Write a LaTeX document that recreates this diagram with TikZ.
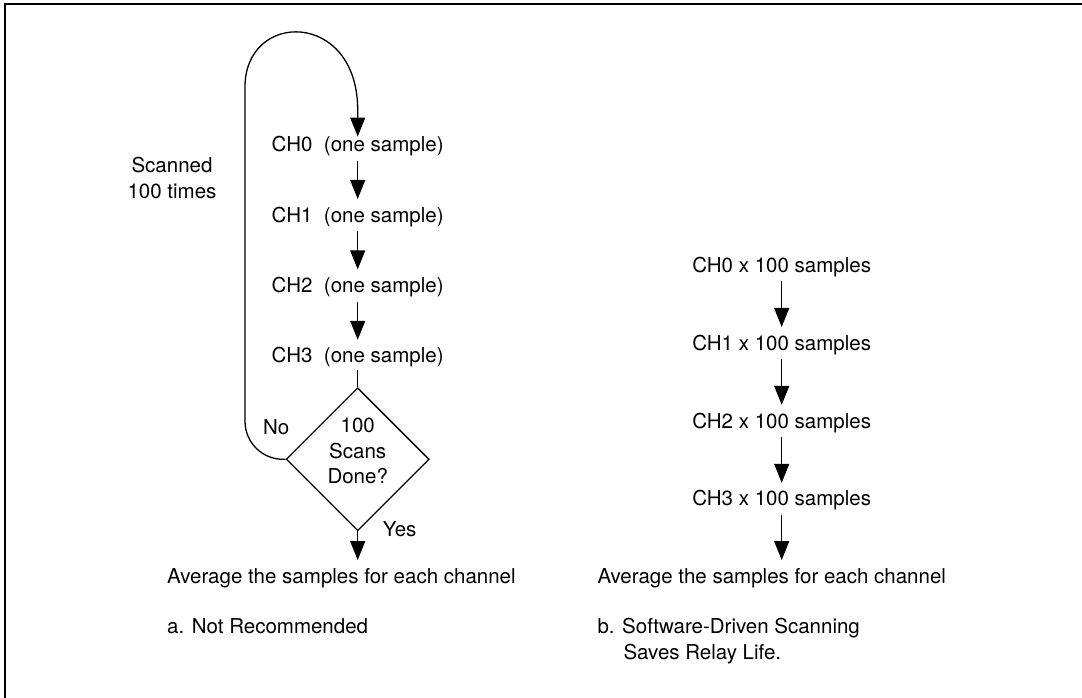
\documentclass[tikz,border=0pt]{standalone}
\usepackage{fontspec}
\setmainfont{TeX Gyre Heros}
\usetikzlibrary{arrows.meta,positioning,calc,shapes.geometric}
\newcommand{\diafont}{\fontsize{20.5pt}{25.5pt}\selectfont}

\begin{document}
\begin{tikzpicture}[
  x=1pt, y=-1pt,
  node distance=50.5pt,
  txt/.style={font=\diafont, inner sep=0pt, text height=15pt, text depth=4.5pt},
  lbl/.style={font=\diafont, inner sep=0pt, align=center},
  test/.style={draw, diamond, line width=1.3pt, minimum width=143pt,
               minimum height=143pt, inner sep=0pt},
  arr/.style={-{Triangle[length=19pt,width=15pt]}, line width=1.3pt,
              shorten <=4.5pt, shorten >=8pt},
  link/.style={line width=1.3pt},
  frame/.style={line width=2pt},
]
\useasboundingbox (0,0) rectangle (1082,698);

%% Frame (top and left edges)
\draw[frame] (5,698) -- (5,4.5) -- (1082,4.5);

%% a. one sample per channel, scanned 100 times
\node[txt] (ch0L) at (357.7,146.5) {CH0\ \ (one sample)};
\node[txt, below=of ch0L] (ch1L) {CH1\ \ (one sample)};
\node[txt, below=of ch1L] (ch2L) {CH2\ \ (one sample)};
\node[txt, below=of ch2L] (ch3L) {CH3\ \ (one sample)};
\node[test, below=19.5pt of ch3L,
      label={[lbl, yshift=8.3pt]center:{100\\Scans\\Done?}}] (dia) {};
\node[txt, anchor=west] (avgL) at (167,578) {Average the samples for each channel};
\node[txt, below=30.5pt of avgL.south west, anchor=north west] (capA) {a. Not Recommended};

\node[lbl] (scan) at (172,178) {Scanned\\100 times};
\node[txt] (no) at ($(dia.west)+(-9.3,-30.3)$) {No};
\node[txt, right=25pt of dia.south] (yes) {Yes};

\draw[arr] (ch0L.south) -- (ch1L.north);
\draw[arr] (ch1L.south) -- (ch2L.north);
\draw[arr] (ch2L.south) -- (ch3L.north);
\draw[link, shorten <=2.75pt] (ch3L.south) -- (dia.north);
\draw[arr, shorten <=0pt] (dia.south) -- (dia.south |- avgL.north);

%% loop back (No)
\draw[link, -{Triangle[length=19pt,width=15pt]}]
  (dia.west) [rounded corners=38pt] -| (245,125) [sharp corners]
  .. controls (245,10) and (357.7,10) .. (357.7,110) -- (ch0L.north);

%% b. software-driven scanning
\node[txt] (ch0R) at (781.7,267) {CH0 x 100 samples};
\node[txt, below=58pt of ch0R] (ch1R) {CH1 x 100 samples};
\node[txt, below=58pt of ch1R] (ch2R) {CH2 x 100 samples};
\node[txt, below=58pt of ch2R] (ch3R) {CH3 x 100 samples};
\node[txt, anchor=west] (avgR) at (597.3,578) {Average the samples for each channel};
\node[lbl, align=left, below=30.5pt of avgR.south west, anchor=north west] (capB)
  {b. Software-Driven Scanning\\\hspace*{26pt}Saves Relay Life.};

\draw[arr] (ch0R.south) -- (ch1R.north);
\draw[arr] (ch1R.south) -- (ch2R.north);
\draw[arr] (ch2R.south) -- (ch3R.north);
\draw[arr] (ch3R.south) -- (ch3R.south |- avgR.north);

\end{tikzpicture}
\end{document}
